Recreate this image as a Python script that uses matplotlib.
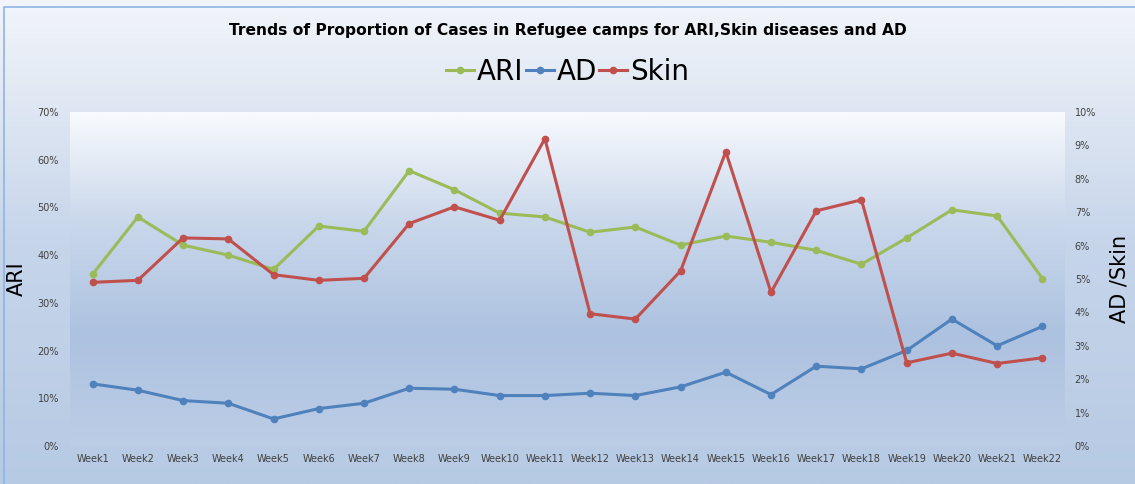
import numpy as np
import matplotlib
matplotlib.use("Agg")
import matplotlib.pyplot as plt
from matplotlib.colors import LinearSegmentedColormap
from matplotlib.ticker import PercentFormatter

weeks = ["Week%d" % i for i in range(1, 23)]
ari = [36.0, 48.0, 42.1, 40.0, 37.0, 46.1, 45.0, 57.7, 53.7, 48.8, 48.0,
       44.8, 45.9, 42.1, 44.0, 42.7, 41.0, 38.1, 43.6, 49.5, 48.2, 35.1]
ad = [1.86, 1.67, 1.36, 1.28, 0.81, 1.12, 1.28, 1.73, 1.70, 1.51, 1.51,
      1.58, 1.51, 1.77, 2.21, 1.54, 2.39, 2.31, 2.86, 3.80, 3.00, 3.58]
skin = [4.90, 4.96, 6.23, 6.20, 5.13, 4.96, 5.02, 6.66, 7.16, 6.76, 9.20,
        3.96, 3.80, 5.24, 8.81, 4.60, 7.04, 7.37, 2.49, 2.78, 2.47, 2.64]

green = "#9bbb59"
blue = "#4f81bd"
red = "#c0504d"
tick_color = "#404040"

fig = plt.figure(figsize=(11.35, 4.84), dpi=100)

# chart background gradient
bg = fig.add_axes([0, 0, 1, 1], zorder=-10)
bg_cmap = LinearSegmentedColormap.from_list("bg", ["#f2f5fa", "#c6d5ea", "#b7cae4"])
bg.imshow(np.linspace(0, 1, 256).reshape(-1, 1), aspect="auto", cmap=bg_cmap,
          extent=[0, 1, 0, 1], origin="upper")
bg.plot([4 / 1135, 4 / 1135, 1], [0, 1 - 7 / 484, 1 - 7 / 484], color="#8eb4e3", lw=1.2)
bg.set_xlim(0, 1)
bg.set_ylim(0, 1)
bg.axis("off")

left, right = 70 / 1135, 1065 / 1135
bottom, top = 1 - 446 / 484, 1 - 112 / 484
ax = fig.add_axes([left, bottom, right - left, top - bottom])
ax2 = ax.twinx()

x = np.arange(len(weeks))

# plot area gradient
pa_cmap = LinearSegmentedColormap.from_list("pa", ["#f8fafd", "#c9d7eb", "#adc2e0", "#bccde6"])
ax.imshow(np.linspace(0, 1, 256).reshape(-1, 1), aspect="auto", cmap=pa_cmap,
          extent=[-0.5, len(weeks) - 0.5, 0, 70], origin="upper", zorder=0)

ax.plot(x, ari, color=green, lw=2.2, marker="o", ms=4.5, label="ARI", zorder=3)
ax2.plot(x, ad, color=blue, lw=2.2, marker="o", ms=4.5, label="AD", zorder=3)
ax2.plot(x, skin, color=red, lw=2.2, marker="o", ms=4.5, label="Skin", zorder=3)

ax.set_xlim(-0.5, len(weeks) - 0.5)
ax.set_ylim(0, 70)
ax2.set_ylim(0, 10)
ax.set_yticks(range(0, 71, 10))
ax2.set_yticks(range(0, 11, 1))
ax.yaxis.set_major_formatter(PercentFormatter(decimals=0))
ax2.yaxis.set_major_formatter(PercentFormatter(decimals=0))
ax.set_xticks(x)
ax.set_xticklabels(weeks)

for a in (ax, ax2):
    for s in a.spines.values():
        s.set_visible(False)
    a.tick_params(length=0, labelsize=7, colors=tick_color)
    a.patch.set_alpha(0)
ax.tick_params(axis="y", pad=8)
ax2.tick_params(axis="y", pad=7)
ax.tick_params(axis="x", pad=6)

ax.set_ylabel("ARI", fontsize=15)
ax.yaxis.set_label_coords(-0.043, 0.5)
ax2.set_ylabel("AD /Skin", fontsize=15)
ax2.yaxis.set_label_coords(1.045, 0.5)

fig.text(0.5, 1 - 30 / 484, "Trends of Proportion of Cases in Refugee camps for ARI,Skin diseases and AD",
         ha="center", va="center", fontsize=11.2, fontweight="bold")

h1, l1 = ax.get_legend_handles_labels()
h2, l2 = ax2.get_legend_handles_labels()
fig.legend(h1 + h2, l1 + l2, loc="center", bbox_to_anchor=(0.5, 1 - 72 / 484), ncol=3,
           frameon=False, fontsize=20, handlelength=1.0, handletextpad=0.1,
           columnspacing=0.1)

fig.savefig("out.png", dpi=100)
